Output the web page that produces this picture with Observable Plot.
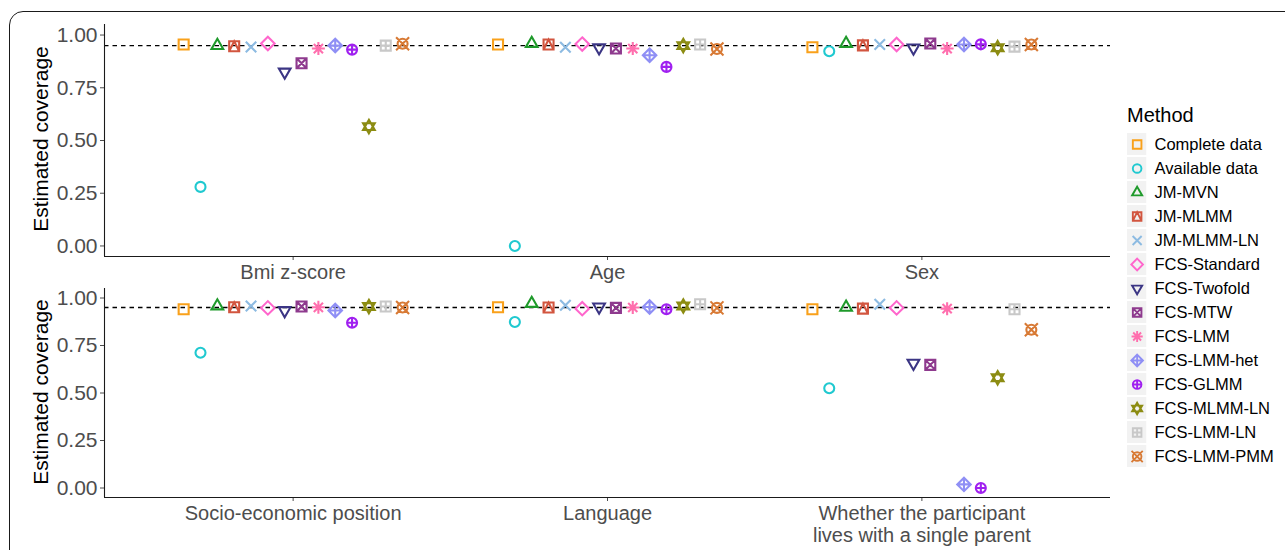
<!DOCTYPE html>
<html>
<head>
<meta charset="utf-8">
<script src="https://cdn.jsdelivr.net/npm/d3@7"></script>
<script src="https://cdn.jsdelivr.net/npm/@observablehq/plot@0.6"></script>
<style>
  html, body { margin: 0; padding: 0; background: #fff; }
  #wrap { position: relative; width: 1285px; height: 550px; overflow: hidden; font-family: "Liberation Sans", Arial, sans-serif; }
  #border { position: absolute; left: 9px; top: 11px; width: 1320px; height: 620px; border: 1.5px solid #1a1a1a; border-radius: 14px; box-sizing: border-box; }
  .panel { position: absolute; left: 0; }
  .ytitle { position: absolute; font-size: 21px; color: #000; white-space: nowrap; transform: translate(-50%, -50%) rotate(-90deg); }
  #legendTitle { position: absolute; left: 1127px; top: 104px; font-size: 20px; color: #000; }
  #legend { position: absolute; left: 1120px; top: 95px; }
</style>
</head>
<body>
<div id="wrap">
  <div id="border"></div>
  <div id="top" class="panel" style="top:0px"></div>
  <div id="bottom" class="panel" style="top:270px"></div>
  <div class="ytitle" style="left:41px; top:139px">Estimated coverage</div>
  <div class="ytitle" style="left:41px; top:392px">Estimated coverage</div>
  <div id="legendTitle">Method</div>
  <div id="legend"></div>
</div>
<script>
// ---------------- data ----------------
const methods = ["Complete data", "Available data", "JM-MVN", "JM-MLMM", "JM-MLMM-LN",
  "FCS-Standard", "FCS-Twofold", "FCS-MTW", "FCS-LMM", "FCS-LMM-het", "FCS-GLMM",
  "FCS-MLMM-LN", "FCS-LMM-LN", "FCS-LMM-PMM"];
const methodColors = ["#F9A11B", "#20C9D0", "#1F9A2B", "#D2553F", "#8DBBE2", "#FF66CC",
  "#3B3584", "#8E3A8E", "#FF6FAE", "#8F8FF5", "#A020F0", "#8C8C12", "#C8C8C8", "#D87A35"];

const categoriesTop = ["Bmi z-score", "Age", "Sex"];
const categoriesBottom = ["Socio-economic position", "Language", "Whether the participant\nlives with a single parent"];

const bmi      = [0.955, 0.28, 0.95, 0.947, 0.943, 0.96, 0.825, 0.866, 0.936, 0.95, 0.931, 0.566, 0.95, 0.959];
const age      = [0.955, 0.00, 0.96, 0.955, 0.942, 0.957, 0.94, 0.936, 0.936, 0.904, 0.849, 0.95, 0.955, 0.934];
const sex      = [0.942, 0.923, 0.96, 0.951, 0.955, 0.955, 0.939, 0.96, 0.936, 0.955, 0.956, 0.94, 0.945, 0.955];
const sep      = [0.941, 0.712, 0.958, 0.951, 0.958, 0.948, 0.934, 0.955, 0.951, 0.934, 0.870, 0.955, 0.955, 0.95];
const language = [0.951, 0.874, 0.971, 0.95, 0.962, 0.944, 0.953, 0.948, 0.95, 0.953, 0.941, 0.958, 0.967, 0.948];
const singleParent = [0.941, 0.525, 0.951, 0.944, 0.967, 0.948, 0.657, 0.648, 0.944, 0.019, 0.00, 0.58, 0.941, 0.833];

const nominalCoverage = 0.95;
const yTicks = [0, 0.25, 0.5, 0.75, 1];

// ---------------- symbols (R pch-like shapes) ----------------
function sym(fn) { return { draw(ctx, size) { fn(ctx, Math.sqrt(size / Math.PI)); } }; }
function sq(c, h) { c.moveTo(-h, -h); c.lineTo(h, -h); c.lineTo(h, h); c.lineTo(-h, h); c.closePath(); }
function circ(c, h) { c.moveTo(h, 0); c.arc(0, 0, h, 0, 2 * Math.PI); c.closePath(); }
function triU(c, h) { const R = 1.35 * h; c.moveTo(0, -R); c.lineTo(R * 0.866, R * 0.5); c.lineTo(-R * 0.866, R * 0.5); c.closePath(); }
function triD(c, h) { const R = 1.35 * h; c.moveTo(0, R); c.lineTo(R * 0.866, -R * 0.5); c.lineTo(-R * 0.866, -R * 0.5); c.closePath(); }
function xs(c, h) { c.moveTo(-h, -h); c.lineTo(h, h); c.moveTo(h, -h); c.lineTo(-h, h); }
function pl(c, h) { c.moveTo(-h, 0); c.lineTo(h, 0); c.moveTo(0, -h); c.lineTo(0, h); }
function dia(c, h) { const d = 1.35 * h; c.moveTo(0, -d); c.lineTo(d, 0); c.lineTo(0, d); c.lineTo(-d, 0); c.closePath(); }

const shapes = [
  sym((c, h) => sq(c, h)),                                   // 0
  sym((c, h) => circ(c, h)),                                 // 1
  sym((c, h) => triU(c, h)),                                 // 2
  sym((c, h) => { sq(c, h); c.moveTo(-h, h); c.lineTo(0, -h); c.lineTo(h, h); }), // 14
  sym((c, h) => xs(c, h * 1.05)),                            // 4
  sym((c, h) => dia(c, h)),                                  // 5
  sym((c, h) => triD(c, h)),                                 // 6
  sym((c, h) => { sq(c, h); xs(c, h); }),                    // 7
  sym((c, h) => { pl(c, h * 1.3); xs(c, h * 0.92); }),       // 8
  sym((c, h) => { dia(c, h); pl(c, h * 1.35); }),            // 9
  sym((c, h) => { circ(c, h); pl(c, h); }),                  // 10
  sym((c, h) => { triU(c, h); triD(c, h); }),                // 11
  sym((c, h) => { sq(c, h); pl(c, h); }),                    // 12
  sym((c, h) => { circ(c, h); xs(c, h * 1.3); })             // 13
];

// ---------------- build tables ----------------
const dodgeWidth = 0.75;
function rows(seriesList) {
  const out = [];
  seriesList.forEach((vals, ci) => {
    vals.forEach((v, mi) => {
      out.push({ cat: ci + 1, method: methods[mi], mi, value: v,
        pos: ci + 1 + (mi - (methods.length - 1) / 2) * dodgeWidth / methods.length });
    });
  });
  return out;
}
const topData = rows([bmi, age, sex]);
const bottomData = rows([sep, language, singleParent]);

const font = '"Liberation Sans", Arial, sans-serif';

function panel(data, cats, opts) {
  return Plot.plot({
    width: 1120,
    height: opts.height,
    marginLeft: 104,
    marginRight: 10,
    marginTop: opts.marginTop,
    marginBottom: opts.marginBottom,
    style: { fontFamily: font, fontSize: "21px", color: "#4D4D4D", background: "transparent", overflow: "visible" },
    x: { domain: [0.4, 3.6], ticks: [1, 2, 3], tickFormat: () => "", tickSize: 4, label: null },
    y: { domain: [-0.05, 1.05], ticks: yTicks, tickFormat: d3.format(".2f"), tickSize: 4, tickPadding: 3, label: null },
    color: { domain: methods, range: methodColors },
    symbol: { domain: methods, range: shapes },
    marks: [
      Plot.ruleY([nominalCoverage], { stroke: "#000", strokeWidth: 1.3, strokeDasharray: "4.5,4" }),
      Plot.ruleX([0.4], { stroke: "#1a1a1a", strokeWidth: 1.1 }),
      Plot.ruleY([-0.05], { stroke: "#1a1a1a", strokeWidth: 1.1 }),
      Plot.dot(data, { x: "pos", y: "value", stroke: "method", symbol: "method", fill: "none", r: 5, strokeWidth: 2.1 }),
      Plot.text(cats, { x: (d, i) => i + 1, frameAnchor: "bottom", dy: opts.labelDy, lineAnchor: "top", lineHeight: 1.1,
        fontSize: 20, fill: "#4D4D4D", text: d => d })
    ]
  });
}

document.getElementById("top").append(panel(topData, categoriesTop, { height: 290, marginTop: 24, marginBottom: 34, labelDy: 7 }));
document.getElementById("bottom").append(panel(bottomData, categoriesBottom, { height: 280, marginTop: 18, marginBottom: 53, labelDy: 7 }));

// ---------------- legend ----------------
const legend = Plot.plot({
  width: 165,
  height: 380,
  marginLeft: 7,
  marginRight: 0,
  marginTop: 35,
  marginBottom: 6,
  style: { fontFamily: font, fontSize: "16.5px", color: "#000", background: "transparent", overflow: "visible" },
  x: { domain: [0, 1], axis: null },
  y: { type: "band", domain: methods, paddingInner: 0.1, paddingOuter: 0.05, axis: null },
  color: { domain: methods, range: methodColors },
  symbol: { domain: methods, range: shapes },
  marks: [
    Plot.barX(methods, { y: d => d, x1: 0, x2: 0.122, fill: "#F2F2F2" }),
    Plot.dot(methods, { y: d => d, x: 0.061, stroke: d => d, symbol: d => d, fill: "none", r: 4.3, strokeWidth: 1.9 }),
    Plot.text(methods, { y: d => d, x: 0.171, text: d => d, textAnchor: "start", fill: "#000", fontSize: 16.5 })
  ]
});
document.getElementById("legend").append(legend);
</script>
</body>
</html>
